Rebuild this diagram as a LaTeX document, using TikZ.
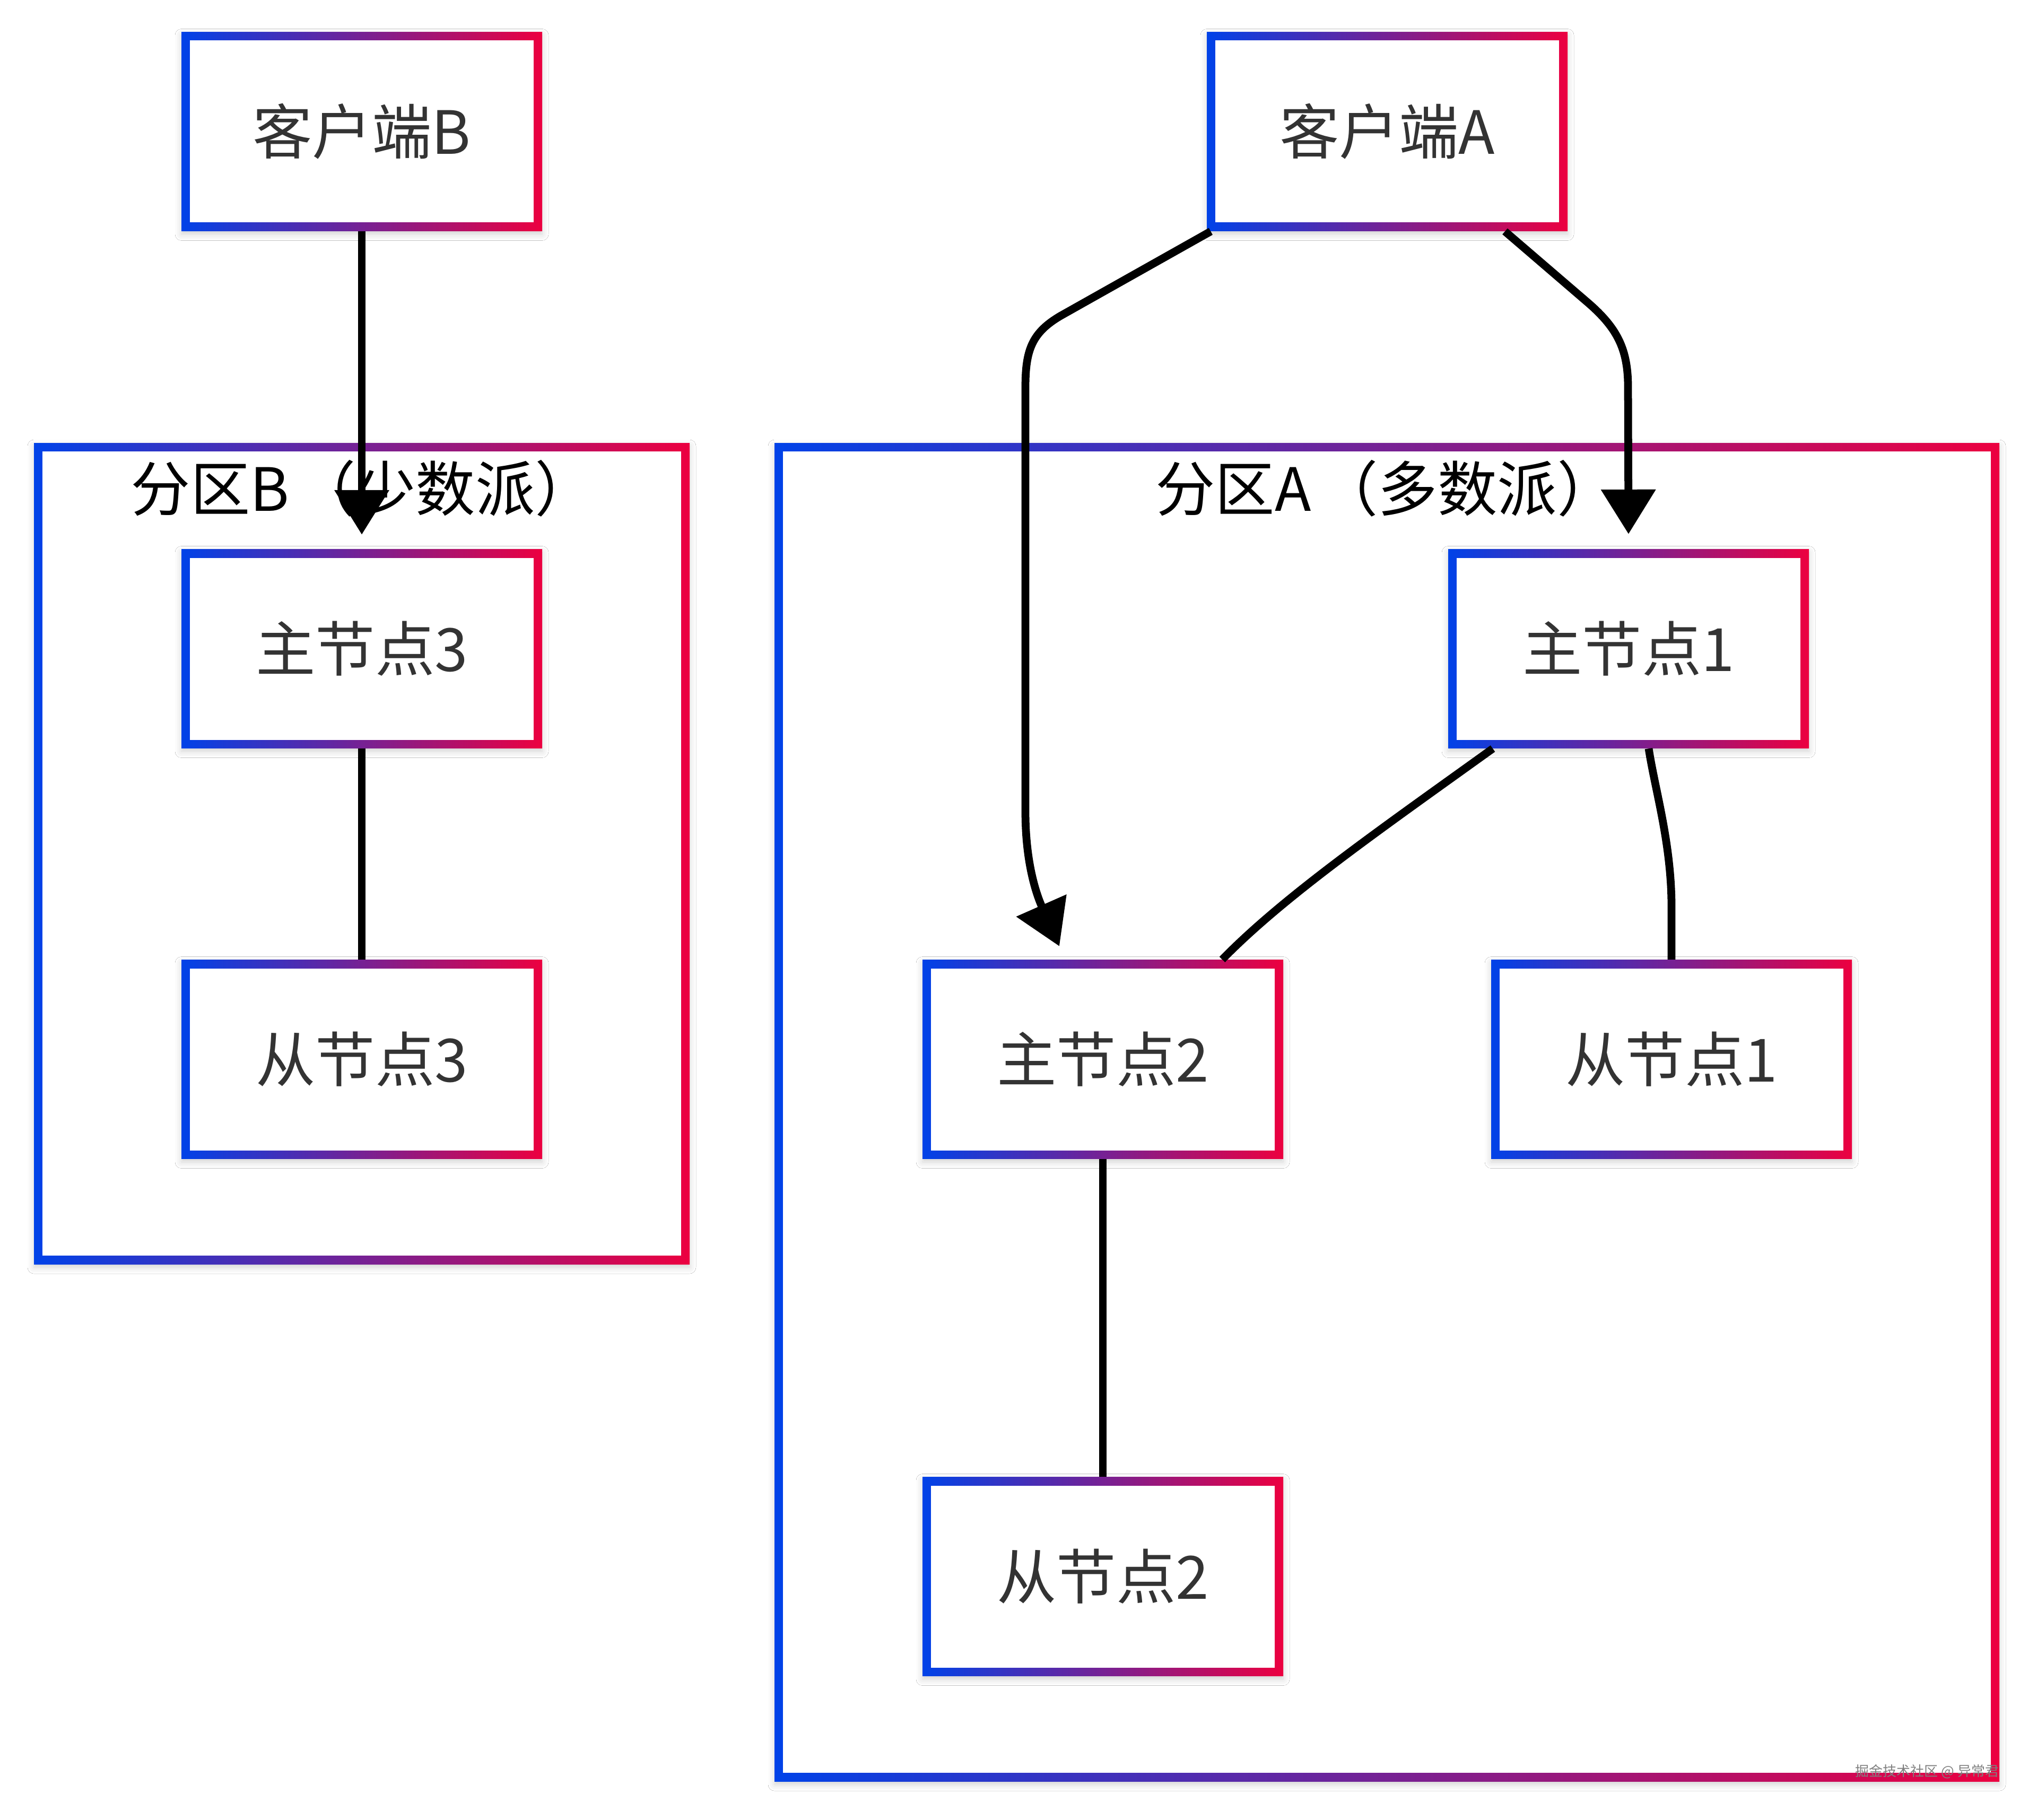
\documentclass[tikz,border=0pt]{standalone}
\usepackage{fontspec}
\setmainfont{Noto Sans CJK SC}
\usetikzlibrary{arrows.meta,shadows.blur}

\definecolor{cblue}{RGB}{0,66,232}
\definecolor{cred}{RGB}{236,0,64}
\definecolor{txtgray}{RGB}{51,51,51}
\newcommand{\lblfont}{\fontsize{32}{38}\selectfont}

\tikzset{
  gbox/.style={fill=white, inner sep=0pt, text=txtgray, font=\lblfont,
    blur shadow={shadow xshift=0pt, shadow yshift=-0.06cm, shadow blur radius=0.12cm, shadow opacity=18},
    path picture={
      \shade[left color=cblue, right color=cred] (path picture bounding box.south west) rectangle (path picture bounding box.north east);
      \fill[white] ([shift={(0.16,0.16)}]path picture bounding box.south west) rectangle ([shift={(-0.16,-0.16)}]path picture bounding box.north east);
    }},
  nodebox/.style={gbox, minimum width=6.8cm, minimum height=3.75cm},
  link/.style={line width=4.2pt, black},
  arrowlink/.style={link, -{Triangle[length=0.84cm,width=1.0cm]}},
}

\begin{document}
\begin{tikzpicture}
	\useasboundingbox (0,0) rectangle (38.4,-34.3);
	\fill[white] (0,0) rectangle (38.4,-34.3);

	% partitions
	\node[gbox, minimum width=12.36cm, minimum height=15.48cm] (partB) at (6.82,-16.09) {};
	\node[gbox, minimum width=23.09cm, minimum height=25.23cm] (partA) at (26.145,-20.965) {};
	\node[font=\lblfont] (titleB) at (6.84,-9.21) {分区B\hspace{0.12em}（少数派）\hspace{0.1em}};
	\node[font=\lblfont] (titleA) at (26.13,-9.21) {分区A\hspace{0.12em}（多数派）\hspace{0.1em}};

	% clients
	\node[nodebox] (cliB) at (6.82,-2.48) {客户端B};
	\node[nodebox] (cliA) at (26.15,-2.48) {客户端A};

	% nodes
	\node[nodebox] (m3) at (6.82,-12.23) {主节点3};
	\node[nodebox] (s3) at (6.82,-19.97) {从节点3};
	\node[nodebox] (m1) at (30.70,-12.23) {主节点1};
	\node[nodebox] (m2) at (20.79,-19.97) {主节点2};
	\node[nodebox] (s1) at (31.51,-19.97) {从节点1};
	\node[nodebox] (s2) at (20.79,-29.72) {从节点2};

	% connectors
	\draw[arrowlink, shorten >=0.27cm] (cliB) -- (m3);
	\draw[arrowlink] ([xshift=0.08cm]cliA.south west) -- (20.0,-5.95)
		.. controls (19.45,-6.27) and (19.33,-6.6) .. (19.33,-7.3) -- (19.33,-15.3)
		.. controls (19.33,-16.4) and (19.6,-17.0) .. ([xshift=-0.82cm,yshift=0.25cm]m2.north);
	\draw[arrowlink, shorten >=0.28cm] ([xshift=2.22cm]cliA.south) -- (29.95,-5.72)
		.. controls (30.5,-6.2) and (30.69,-6.6) .. (30.69,-7.3) -- (m1.north);
	\draw[link] ([xshift=-2.56cm]m1.south) .. controls (26.0,-15.65) and (24.2,-16.9) .. ([xshift=2.25cm]m2.north);
	\draw[link] ([xshift=0.38cm]m1.south) .. controls (31.2,-14.9) and (31.51,-15.9) .. (31.51,-17.1) -- (s1.north);
	\draw[link] (m3) -- (s3);
	\draw[link] (m2) -- (s2);

	\node[font=\fontsize{7.4}{9}\selectfont, text=gray] (mark) at (36.33,-33.4) {掘金技术社区 @ 异常君};
\end{tikzpicture}
\end{document}
